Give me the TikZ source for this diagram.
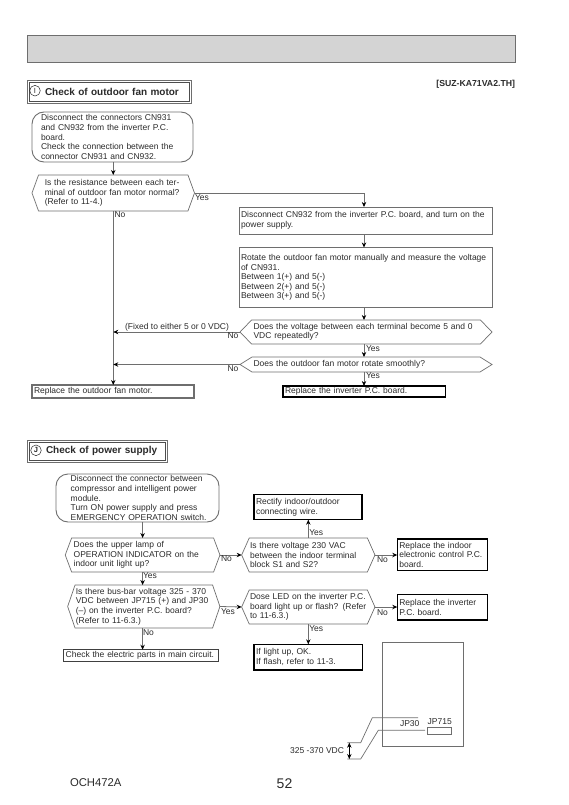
\documentclass[tikz,border=0pt]{standalone}
\usepackage{fontspec}
\setmainfont{Liberation Sans}
\usepackage{xcolor}
\usetikzlibrary{arrows.meta,shapes.symbols}

\definecolor{linegray}{HTML}{6E6E6E}
\definecolor{bargray}{HTML}{D4D4D4}
\definecolor{inkgray}{HTML}{2A2A2A}
\newcommand{\flowfont}{\fontsize{8.5}{9.6}\selectfont}

\begin{document}
\begin{tikzpicture}[x=1pt,y=-1pt,>={Stealth[black,length=5pt,width=4.4pt]},
	every node/.style={outer sep=0pt,text=inkgray},
	flowbox/.style={draw=linegray,line width=0.9pt,anchor=north west,align=left,inner xsep=2pt,inner ysep=0pt,font=\flowfont},
	darkbox/.style={flowbox,draw=black,line width=1.1pt},
	startbox/.style={flowbox,rounded corners=12pt},
	hexbox/.style={draw=linegray,line width=0.7pt,shape=signal,signal to=east and west,signal from=nowhere,align=left,inner xsep=0pt,inner ysep=0pt,font=\flowfont},
	titleouter/.style={draw=linegray,line width=0.6pt,anchor=north west,inner sep=0pt},
	titlebox/.style={draw=linegray!70!black,line width=0.9pt,anchor=north west,font=\fontsize{10}{12}\selectfont\bfseries,align=left,inner sep=0pt},
	circmark/.style={draw=inkgray,circle,line width=0.5pt,minimum size=10.6pt,inner sep=0pt,font=\fontsize{7.5}{8}\selectfont},
	lab/.style={anchor=west,inner sep=0pt,font=\flowfont},
	flow/.style={->,draw=linegray,line width=0.8pt},
	link/.style={draw=linegray,line width=0.7pt}]
	\useasboundingbox (0,0) rectangle (569,805);

	% header
	\node [draw=linegray,fill=bargray,line width=0.9pt,anchor=north west,minimum width=488pt,minimum height=27pt] (bar) at (27,35) {};
	\node [anchor=east,inner sep=0pt,font=\fontsize{8.7}{10}\selectfont\bfseries] (model) at (515,84) {[SUZ-KA71VA2.TH]};

	% check of outdoor fan motor
	\node [titleouter,minimum width=163.7pt,minimum height=23pt] (framei) at (27.3,80) {};
	\node [titlebox,minimum width=159.7pt,text width=159.7pt,minimum height=19pt] (titlei) at (29.3,82) {\hspace*{15.7pt}Check of outdoor fan motor};
	\node [circmark] (marki) at (35,90.7) {I};
	\coordinate (trunk) at (364,0);

	\node [startbox,text width=157pt,minimum height=50pt] (motorstart) at (32,112) {\hspace*{7pt}Disconnect the connectors CN931\\\hspace*{7pt}and CN932 from the inverter P.C.\\\hspace*{7pt}board.\\\hspace*{7pt}Check the connection between the\\\hspace*{7pt}connector CN931 and CN932.};
	\node [hexbox,text width=137pt,minimum width=162.5pt,minimum height=36pt,signal pointer angle=140] (resist) at (113.25,193) {Is the resistance between each ter-\\minal of outdoor fan motor normal?\\(Refer to 11-4.)};
	\node [flowbox,text width=249pt,minimum height=27pt] (disc) at (239,207) {Disconnect CN932 from the inverter P.C. board, and turn on the\\power supply.};
	\node [flowbox,text width=249pt,minimum height=60pt] (rotate) at (239,247.5) {Rotate the outdoor fan motor manually and measure the voltage\\of CN931.\\Between 1(+) and 5(-)\\Between 2(+) and 5(-)\\Between 3(+) and 5(-)};
	\node [hexbox,text width=225pt,minimum width=252pt,minimum height=24pt,signal pointer angle=92] (repeat) at (366,332) {Does the voltage between each terminal become 5 and 0\\VDC repeatedly?};
	\node [hexbox,text width=225pt,minimum width=252pt,minimum height=15pt,signal pointer angle=64] (smooth) at (366,364.5) {Does the outdoor fan motor rotate smoothly?};
	\node [flowbox,text width=158pt,minimum height=13pt,line width=1.1pt] (fanbox) at (32,385) {Replace the outdoor fan motor.};
	\node [darkbox,text width=158.5pt,minimum height=11pt] (invbox) at (283,386) {Replace the inverter P.C. board.};

	\draw [flow] (motorstart.south -| resist) -- (resist.north);
	\draw [flow] (resist.east) -| (disc.north -| trunk);
	\draw [flow] (disc.south -| trunk) -- (rotate.north -| trunk);
	\draw [flow] (rotate.south -| trunk) -- (repeat.north -| trunk);
	\draw [flow] (repeat.south -| trunk) -- (smooth.north -| trunk);
	\draw [flow] (smooth.south -| trunk) -- (invbox.north -| trunk);
	\draw [flow] (resist.south) -- (fanbox.north -| resist);
	\draw [flow] (repeat.west) -- (repeat.west -| resist);
	\draw [flow] (smooth.west) -- (smooth.west -| resist);

	\node [lab] (yesa) at (195,198) {Yes};
	\node [lab] (noa) at (114.5,215) {No};
	\node [lab] (fixed) at (125,327) {(Fixed to either 5 or 0 VDC)};
	\node [lab] (nob) at (227.5,336) {No};
	\node [lab] (yesb) at (366,349) {Yes};
	\node [lab] (noc) at (227.5,369) {No};
	\node [lab] (yesc) at (366,376) {Yes};

	% check of power supply
	\node [titleouter,minimum width=140.7pt,minimum height=22.3pt] (framej) at (27,440) {};
	\node [titlebox,minimum width=136.7pt,text width=136.7pt,minimum height=18.3pt] (titlej) at (29,442) {\hspace*{17pt}Check of power supply};
	\node [circmark,font=\fontsize{7.5}{8}\selectfont\bfseries] (markj) at (36,450.3) {J};

	\node [startbox,text width=159pt,minimum height=48pt] (powerstart) at (56,474) {\hspace*{12.7pt}Disconnect the connector between\\\hspace*{12.7pt}compressor and intelligent power\\\hspace*{12.7pt}module.\\\hspace*{12.7pt}Turn ON power supply and press\\\hspace*{12.7pt}EMERGENCY OPERATION switch.};
	\node [hexbox,text width=137.8pt,minimum width=154.7pt,minimum height=34pt,signal pointer angle=139] (lamp) at (142.6,555) {Does the upper lamp of\\OPERATION INDICATOR on the\\indoor unit light up?};
	\node [hexbox,text width=136pt,minimum width=152.3pt,minimum height=43pt,signal pointer angle=142] (busbar) at (143.8,606.5) {Is there bus-bar voltage 325 - 370\\VDC between JP715 (+) and JP30\\(--) on the inverter P.C. board?\\(Refer to 11-6.3.)};
	\node [flowbox,draw=black!75,line width=1.2pt,text width=150.6pt,minimum height=12pt] (elecbox) at (63.7,649.7) {Check the electric parts in main circuit.};
	\node [hexbox,text width=116.5pt,minimum width=133.3pt,minimum height=34pt,signal pointer angle=132] (vac) at (308.3,555) {Is there voltage 230 VAC\\between the indoor terminal\\block S1 and S2?};
	\node [hexbox,text width=116.5pt,minimum width=133.3pt,minimum height=34pt,signal pointer angle=132] (led) at (308.3,607) {Dose LED on the inverter P.C.\\board light up or flash? (Refer\\to 11-6.3.)};
	\node [darkbox,text width=104pt,minimum height=25pt] (wirebox) at (254,494.7) {Rectify indoor/outdoor\\connecting wire.};
	\node [darkbox,text width=86pt,minimum height=31.7pt] (indoorbox) at (397.3,539) {Replace the indoor\\electronic control P.C.\\board.};
	\node [darkbox,text width=86pt,minimum height=25.3pt] (inverterbox) at (397.3,594.7) {Replace the inverter\\P.C. board.};
	\node [darkbox,text width=104.3pt,minimum height=25.7pt] (okbox) at (254,644.3) {If light up, OK.\\If flash, refer to 11-3.};

	\draw [flow] (powerstart.south -| lamp) -- (lamp.north);
	\draw [flow] (lamp.south) -- (busbar.north -| lamp);
	\draw [flow] (busbar.south -| lamp) -- (elecbox.north -| lamp);
	\draw [flow] (lamp.east) -- (vac.west);
	\draw [flow] (busbar.east) -- (led.west);
	\draw [flow] (vac.north) -- (wirebox.south -| vac);
	\draw [flow] (vac.east) -- (vac.east -| indoorbox.west);
	\draw [flow] (led.east) -- (led.east -| inverterbox.west);
	\draw [flow] (led.south) -- (okbox.north -| led);

	\node [lab] (nod) at (221,559) {No};
	\node [lab] (yesd) at (143,576) {Yes};
	\node [lab] (yese) at (221,612) {Yes};
	\node [lab] (noe) at (143,633) {No};
	\node [lab] (yesf) at (309.3,532.7) {Yes};
	\node [lab] (nof) at (377,559.7) {No};
	\node [lab] (nog) at (377,612.3) {No};
	\node [lab] (yesg) at (309.3,629) {Yes};

	% board sketch
	\node [draw=linegray,line width=1pt,anchor=north west,minimum width=81pt,minimum height=103.3pt] (board) at (382.3,642.7) {};
	\node [lab] (jpthirty) at (400,723.7) {JP30};
	\node [lab] (jpseven) at (427.7,722) {JP715};
	\node [draw=linegray,line width=0.6pt,anchor=north west,minimum width=24.4pt,minimum height=6.6pt] (jpslot) at (427.3,727.7) {};
	\coordinate (padtop) at (418,717.7);
	\coordinate (padlow) at (425,730.3);
	\coordinate (leadtop) at (347.3,742.7);
	\coordinate (leadlow) at (347.3,759);
	\draw [link] (padtop) -- (372.3,717.7) -- (360.7,742.7) -- (leadtop);
	\draw [link] (padlow) -- (378.3,730.3) -- (360.7,759) -- (leadlow);
	\draw [<->,draw=black,line width=0.7pt] ([xshift=2pt]leadtop) -- ([xshift=2pt]leadlow);
	\node [lab,anchor=east] (volt) at (344,751) {325 -370 VDC};

	% footer
	\node [anchor=west,inner sep=0pt,font=\fontsize{11.3}{13}\selectfont] (code) at (70,783) {OCH472A};
	\node [anchor=center,inner sep=0pt,font=\fontsize{14}{16}\selectfont] (page) at (284.5,783.5) {52};
\end{tikzpicture}
\end{document}
